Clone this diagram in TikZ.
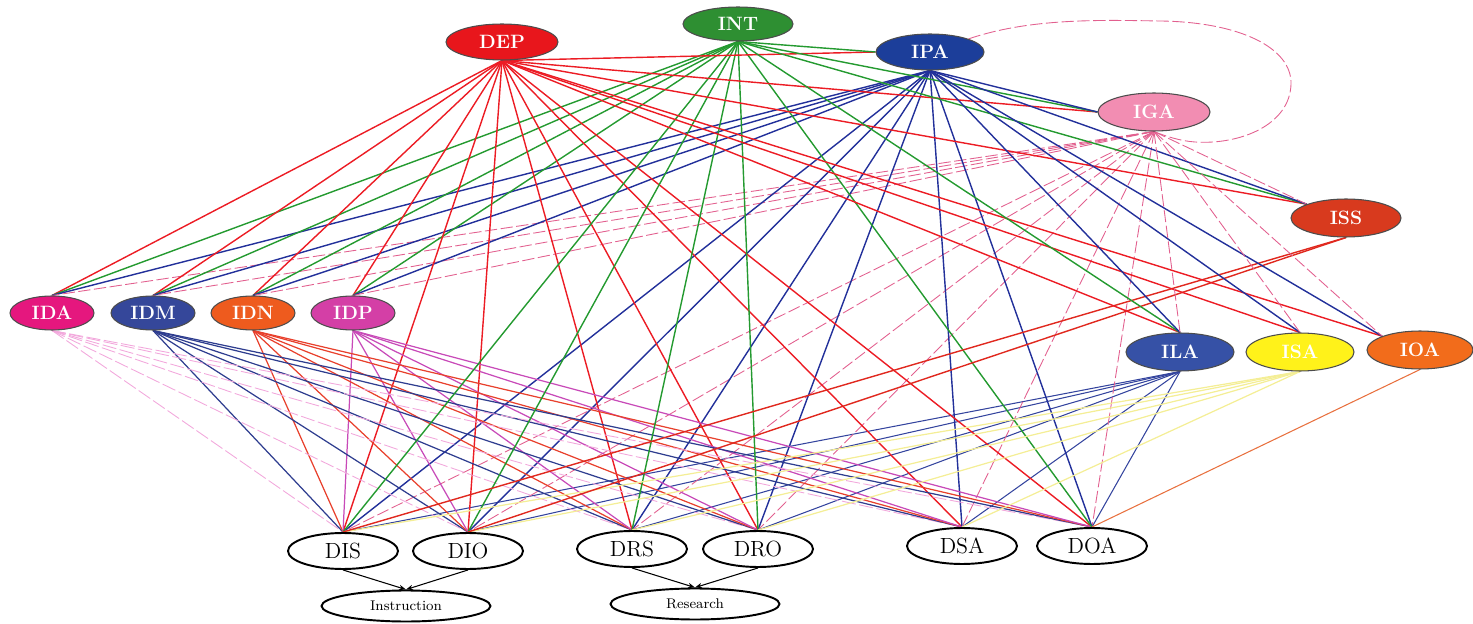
\documentclass[tikz,border=0pt]{standalone}
\usetikzlibrary{shapes.geometric,arrows.meta,backgrounds}
\definecolor{cDEP}{HTML}{E8161C}
\definecolor{cINT}{HTML}{2E8F32}
\definecolor{cIPA}{HTML}{1C3E9A}
\definecolor{cIGA}{HTML}{F28DB2}
\definecolor{cISS}{HTML}{D83A1E}
\definecolor{cIDA}{HTML}{E5177E}
\definecolor{cIDM}{HTML}{35479A}
\definecolor{cIDN}{HTML}{EE5B1E}
\definecolor{cIDP}{HTML}{D43FA6}
\definecolor{cILA}{HTML}{3651A6}
\definecolor{cISA}{HTML}{FFF21A}
\definecolor{cIOA}{HTML}{F26C1B}
\definecolor{eRed}{HTML}{EC1C24}
\definecolor{eGreen}{HTML}{249A30}
\definecolor{eBlue}{HTML}{22309A}
\definecolor{ePink}{HTML}{E2608F}
\definecolor{eIDA}{HTML}{F2A8DC}
\definecolor{eIDM}{HTML}{2E3D8F}
\definecolor{eIDN}{HTML}{E8402C}
\definecolor{eIDP}{HTML}{C84AB8}
\definecolor{eILA}{HTML}{34449E}
\definecolor{eISA}{HTML}{F4EE96}
\definecolor{eIOA}{HTML}{E8703E}
\definecolor{eISS}{HTML}{E0281E}
\begin{document}
\begin{tikzpicture}[x=0.02cm,y=-0.02cm,
  inode/.style={ellipse, draw=black!70, line width=0.6pt, text=white,
    font=\fontsize{11}{13}\selectfont\bfseries, inner sep=0pt},
  dnode/.style={ellipse, draw=black, line width=1.1pt, fill=white,
    font=\fontsize{12.5}{14}\selectfont, inner sep=0pt,
    minimum width=2.2cm, minimum height=0.72cm},
  cnode/.style={ellipse, draw=black, line width=1.1pt, fill=white,
    font=\fontsize{8}{10}\selectfont, inner sep=0pt,
    minimum width=3.38cm, minimum height=0.62cm},
  ered/.style={draw=eRed, line width=0.8pt},
  egreen/.style={draw=eGreen, line width=0.8pt},
  eblue/.style={draw=eBlue, line width=0.8pt},
  epink/.style={draw=ePink, line width=0.5pt, dash pattern=on 7pt off 2pt},
  eida/.style={draw=eIDA, line width=0.5pt, dash pattern=on 8pt off 2pt},
  eidm/.style={draw=eIDM, line width=0.7pt},
  eidn/.style={draw=eIDN, line width=0.7pt},
  eidp/.style={draw=eIDP, line width=0.7pt},
  eila/.style={draw=eILA, line width=0.6pt},
  eisa/.style={draw=eISA, line width=0.7pt},
  eioa/.style={draw=eIOA, line width=0.6pt},
  eiss/.style={draw=eISS, line width=0.8pt},
  arr/.style={draw=black, line width=0.6pt, -{Stealth[length=4pt,width=3pt]}}
]
\useasboundingbox (0,0) rectangle (1473,624);
% top and intermediate nodes
\node[inode, fill=cDEP, minimum width=2.24cm, minimum height=0.72cm] (DEP) at (502,42) {DEP};
\node[inode, fill=cINT, minimum width=2.2cm, minimum height=0.68cm] (INT) at (738,24) {INT};
\node[inode, fill=cIPA, minimum width=2.16cm, minimum height=0.72cm] (IPA) at (930,52) {IPA};
\node[inode, fill=cIGA, minimum width=2.24cm, minimum height=0.76cm] (IGA) at (1154,112) {IGA};
\node[inode, fill=cISS, minimum width=2.2cm, minimum height=0.76cm] (ISS) at (1346,218) {ISS};
\node[inode, fill=cIDA, minimum width=1.68cm, minimum height=0.68cm] (IDA) at (52,313) {IDA};
\node[inode, fill=cIDM, minimum width=1.68cm, minimum height=0.68cm] (IDM) at (153,313) {IDM};
\node[inode, fill=cIDN, minimum width=1.68cm, minimum height=0.68cm] (IDN) at (253,313) {IDN};
\node[inode, fill=cIDP, minimum width=1.68cm, minimum height=0.68cm] (IDP) at (353,313) {IDP};
\node[inode, fill=cILA, minimum width=2.16cm, minimum height=0.76cm] (ILA) at (1180,352) {ILA};
\node[inode, fill=cISA, minimum width=2.16cm, minimum height=0.76cm] (ISA) at (1300,352) {ISA};
\node[inode, fill=cIOA, minimum width=2.12cm, minimum height=0.76cm] (IOA) at (1420,350) {IOA};
% bottom nodes
\node[dnode] (DIS) at (343,551) {DIS};
\node[dnode] (DIO) at (468,551) {DIO};
\node[dnode] (DRS) at (632,549) {DRS};
\node[dnode] (DRO) at (758,549) {DRO};
\node[dnode] (DSA) at (962,546) {DSA};
\node[dnode] (DOA) at (1092,546) {DOA};
\node[cnode] (Instr) at (406,606) {Instruction};
\node[cnode] (Res) at (695,604) {Research};
\begin{pgfonlayer}{background}
% top sources to left intermediate nodes
\foreach \t in {IDA,IDM,IDN,IDP} {
  \draw[ered] (DEP.south) -- (\t.north);
  \draw[egreen] (INT.south) -- (\t.north);
  \draw[eblue] (IPA.south) -- (\t.north);
  \draw[epink] (IGA.south) -- (\t.north);
}
% to bottom nodes
\foreach \t in {DIS,DIO,DRS,DRO,DSA,DOA} {
  \draw[ered] (DEP.south) -- (\t.north);
  \draw[eblue] (IPA.south) -- (\t.north);
  \draw[epink] (IGA.south) -- (\t.north);
  \draw[eida] (IDA.south) -- (\t.north);
  \draw[eidm] (IDM.south) -- (\t.north);
  \draw[eidn] (IDN.south) -- (\t.north);
  \draw[eidp] (IDP.south) -- (\t.north);
  \draw[eila] (ILA.south) -- (\t.north);
}
\foreach \t in {DIS,DIO,DRS,DRO,DOA} {
  \draw[egreen] (INT.south) -- (\t.north);
}
\foreach \t in {DIS,DIO,DRS,DRO,DSA} {
  \draw[eisa] (ISA.south) -- (\t.north);
}
\draw[eioa] (IOA.south) -- (DOA.north);
\draw[eiss] (ISS.south) -- (DIS.north);
\draw[eiss] (ISS.south) -- (DIO.north);
% among upper nodes
\draw[ered] (DEP.south) -- (IPA.west);
\draw[ered] (DEP.south) -- (IGA.west);
\draw[ered] (DEP.south) -- (ISS.north west);
\draw[ered] (DEP.south) -- (ILA.north);
\draw[ered] (DEP.south) -- (ISA.north);
\draw[ered] (DEP.south) -- (IOA.north west);
\draw[egreen] (INT.south) -- (IPA.west);
\draw[egreen] (INT.south) -- (IGA.west);
\draw[egreen] (INT.south) -- (ISS.north west);
\draw[egreen] (INT.south) -- (ILA.north);
\draw[eblue] (IPA.south) -- (IGA.west);
\draw[eblue] (IPA.south) -- (ISS.north west);
\draw[eblue] (IPA.south) -- (ILA.north);
\draw[eblue] (IPA.south) -- (ISA.north);
\draw[eblue] (IPA.south) -- (IOA.north west);
\draw[epink] (IGA.south) -- (ISS.north west);
\draw[epink] (IGA.south) -- (ILA.north);
\draw[epink] (IGA.south) -- (ISA.north);
\draw[epink] (IGA.south) -- (IOA.north west);
% loop from IPA to IGA
\draw[epink] (IPA.north east) .. controls (1030,18) and (1100,20) .. (1160,21)
  .. controls (1240,22) and (1292,48) .. (1291,84)
  .. controls (1290,125) and (1240,145) .. (1195,142)
  .. controls (1180,141) and (1165,136) .. (IGA.south);
\end{pgfonlayer}
% arrows to aggregate nodes
\draw[arr] (DIS.south) -- (Instr.north);
\draw[arr] (DIO.south) -- (Instr.north);
\draw[arr] (DRS.south) -- (Res.north);
\draw[arr] (DRO.south) -- (Res.north);
\end{tikzpicture}
\end{document}
